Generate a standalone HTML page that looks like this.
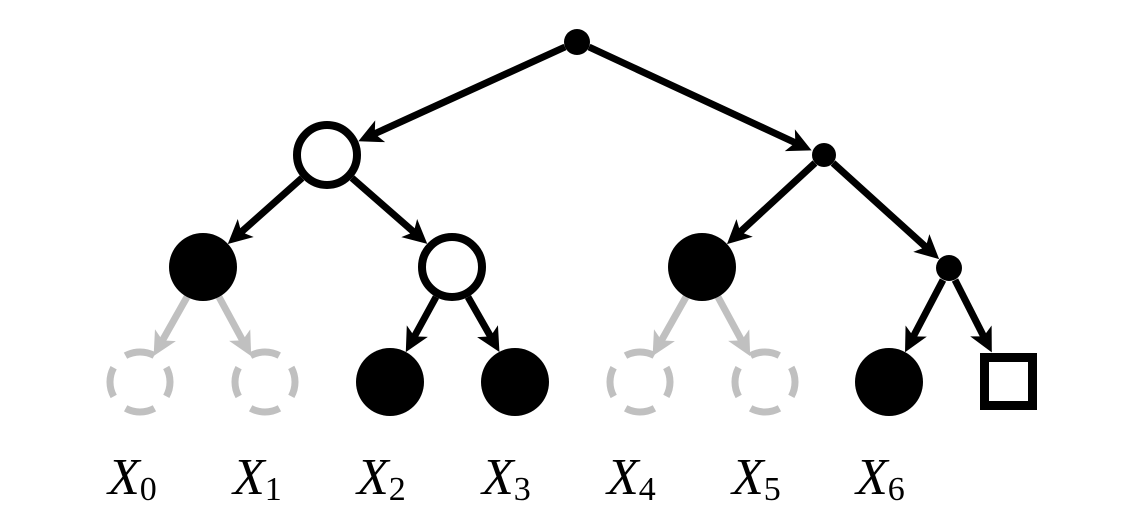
<!DOCTYPE html>
<html><head><meta charset="utf-8"><style>html,body{margin:0;padding:0;background:#fff}svg{display:block}text{font-family:"Liberation Serif","Times New Roman","DejaVu Serif",serif}</style></head>
<body>
<svg width="1131" height="522" viewBox="0 0 1131 522" xmlns="http://www.w3.org/2000/svg">
<defs>
<marker id="a" markerUnits="userSpaceOnUse" markerWidth="40" markerHeight="40" refX="0" refY="0" viewBox="-20 -20 40 40" orient="auto" overflow="visible">
<path d="M15,0 L-9,-12 L-3,0 L-9,12 Z" fill="#000"/></marker>
<marker id="g" markerUnits="userSpaceOnUse" markerWidth="40" markerHeight="40" refX="0" refY="0" viewBox="-20 -20 40 40" orient="auto" overflow="visible">
<path d="M15,0 L-9,-12 L-3,0 L-9,12 Z" fill="#c0c0c0"/></marker>
</defs>
<g stroke="#000" stroke-width="7" fill="none" marker-end="url(#a)">
<line x1="565" y1="47" x2="372" y2="135"/>
<line x1="589" y1="47" x2="798" y2="144"/>
<line x1="302" y1="178" x2="239" y2="234"/>
<line x1="352" y1="178" x2="416" y2="234"/>
<line x1="815" y1="163" x2="738" y2="234"/>
<line x1="833" y1="163" x2="928" y2="249"/>
<line x1="436" y1="297" x2="413" y2="339"/>
<line x1="468" y1="297" x2="492" y2="339"/>
<line x1="943" y1="280" x2="912" y2="339"/>
<line x1="955" y1="280" x2="985" y2="339"/>
</g>
<g stroke="#c0c0c0" stroke-width="7" fill="none" marker-end="url(#g)">
<line x1="187" y1="297" x2="161" y2="343"/>
<line x1="219" y1="297" x2="244" y2="343"/>
<line x1="686" y1="297" x2="660" y2="343"/>
<line x1="718" y1="297" x2="743" y2="343"/>
</g>
<circle cx="577" cy="42" r="13" fill="#000"/>
<circle cx="824" cy="155" r="12" fill="#000"/>
<circle cx="949" cy="268" r="13" fill="#000"/>
<circle cx="327" cy="155" r="30" fill="#fff" stroke="#000" stroke-width="8"/>
<circle cx="452" cy="267" r="30" fill="#fff" stroke="#000" stroke-width="8"/>
<circle cx="203" cy="267" r="34" fill="#000"/>
<circle cx="702" cy="267" r="34" fill="#000"/>
<circle cx="390" cy="382" r="34" fill="#000"/>
<circle cx="515" cy="382" r="34" fill="#000"/>
<circle cx="889" cy="382" r="34" fill="#000"/>
<rect x="984.5" y="357.5" width="48" height="48" fill="#fff" stroke="#000" stroke-width="9"/>
<g fill="none" stroke="#c0c0c0" stroke-width="7" stroke-dasharray="30 17" stroke-dashoffset="15">
<circle cx="140" cy="382" r="30"/>
<circle cx="265" cy="382" r="30"/>
<circle cx="640" cy="382" r="30"/>
<circle cx="765" cy="382" r="30"/>
</g>
<g fill="#000">
<text x="108" y="494" font-size="52" font-style="italic">X<tspan font-style="normal" font-size="34" dy="6">0</tspan></text>
<text x="233" y="494" font-size="52" font-style="italic">X<tspan font-style="normal" font-size="34" dy="6">1</tspan></text>
<text x="357" y="494" font-size="52" font-style="italic">X<tspan font-style="normal" font-size="34" dy="6">2</tspan></text>
<text x="482" y="494" font-size="52" font-style="italic">X<tspan font-style="normal" font-size="34" dy="6">3</tspan></text>
<text x="607" y="494" font-size="52" font-style="italic">X<tspan font-style="normal" font-size="34" dy="6">4</tspan></text>
<text x="732" y="494" font-size="52" font-style="italic">X<tspan font-style="normal" font-size="34" dy="6">5</tspan></text>
<text x="856" y="494" font-size="52" font-style="italic">X<tspan font-style="normal" font-size="34" dy="6">6</tspan></text>
</g>
</svg>
</body></html>
